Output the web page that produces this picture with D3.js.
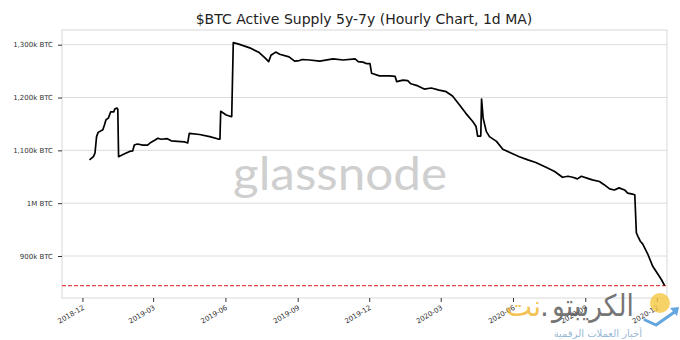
<!DOCTYPE html>
<html>
<head>
<meta charset="utf-8">
<script src="https://cdn.jsdelivr.net/npm/d3@7"></script>
<style>
  html, body { margin: 0; padding: 0; background: #ffffff; }
  svg { display: block; }
</style>
</head>
<body>
<svg id="chart" width="680" height="340"></svg>
<script>
// Active supply last moved 5–7 years ago, in thousands of BTC (1d moving average)
const dates = [
  "2018-12-10","2018-12-15","2018-12-17","2018-12-19","2018-12-21","2018-12-27","2018-12-29","2018-12-31",
  "2019-01-03","2019-01-06","2019-01-10","2019-01-11","2019-01-14","2019-01-15","2019-01-16","2019-01-23",
  "2019-01-30","2019-02-03","2019-02-05","2019-02-09","2019-02-16","2019-02-22","2019-02-26","2019-03-03",
  "2019-03-07","2019-03-11","2019-03-19","2019-03-24","2019-04-01","2019-04-10","2019-04-14","2019-04-16",
  "2019-04-29","2019-05-12","2019-05-24","2019-05-25","2019-05-26","2019-06-02","2019-06-08","2019-06-09",
  "2019-06-11","2019-06-18","2019-07-02","2019-07-14","2019-07-22","2019-07-26","2019-07-29","2019-08-04",
  "2019-08-09","2019-08-21","2019-08-28","2019-09-03","2019-09-07","2019-09-16","2019-09-29","2019-10-16",
  "2019-10-29","2019-11-13","2019-11-17","2019-11-23","2019-11-28","2019-12-02","2019-12-04","2019-12-14",
  "2019-12-27","2020-01-03","2020-01-05","2020-01-13","2020-01-19","2020-01-23","2020-02-01","2020-02-09",
  "2020-02-18","2020-02-28","2020-03-08","2020-03-16","2020-03-25","2020-04-02","2020-04-11","2020-04-15",
  "2020-04-17","2020-04-21","2020-04-22","2020-04-24","2020-04-28","2020-05-02","2020-05-11","2020-05-19",
  "2020-05-28","2020-06-09","2020-06-20","2020-06-30","2020-07-13","2020-07-24","2020-08-03","2020-08-10",
  "2020-08-16","2020-08-22","2020-08-27","2020-09-04","2020-09-10","2020-09-19","2020-09-25","2020-10-02",
  "2020-10-08","2020-10-14","2020-10-21","2020-10-25","2020-10-31","2020-11-03","2020-11-05","2020-11-07",
  "2020-11-10","2020-11-13","2020-11-20","2020-11-26","2020-11-30","2020-12-07","2020-12-11"
];
const supplyK = [
  1082,1088,1095,1126,1134,1139,1148,1158,
  1161,1173,1173,1178,1180,1178,1088,1093,
  1098,1099,1110,1112,1110,1110,1115,1119,
  1123,1121,1122,1118,1117,1116,1114,1132,
  1130,1126,1121,1121,1174,1167,1164,1164,
  1304,1301,1294,1285,1274,1268,1280,1286,
  1282,1277,1269,1270,1272,1271,1269,1273,
  1271,1273,1268,1267,1264,1264,1246,1241,
  1241,1240,1230,1233,1232,1226,1222,1216,
  1218,1214,1211,1203,1186,1170,1154,1145,
  1127,1127,1197,1161,1136,1126,1117,1102,
  1096,1088,1082,1077,1068,1060,1049,1051,
  1049,1046,1051,1047,1044,1041,1035,1027,
  1025,1029,1025,1019,1017,1016,944,937,
  928,923,902,880,871,855,844
];

// Reference level (latest value)
const referenceLevelK = 844;

const yTicks = [900, 1000, 1100, 1200, 1300];
const yTickLabels = ["900k BTC", "1M BTC", "1,100k BTC", "1,200k BTC", "1,300k BTC"];
const xTickLabels = ["2018-12", "2019-03", "2019-06", "2019-09", "2019-12", "2020-03", "2020-06", "2020-09", "2020-12"];

const titleText = "$BTC Active Supply 5y-7y (Hourly Chart, 1d MA)";

const svg = d3.select("#chart");
const margin = { top: 30, right: 13, bottom: 42, left: 62 };
const W = 680, H = 340;
const iw = W - margin.left - margin.right;
const ih = H - margin.top - margin.bottom;

const parse = d3.timeParse("%Y-%m-%d");
const parseMonth = d3.timeParse("%Y-%m");
const series = dates.map((d, i) => ({ date: parse(d), v: supplyK[i] }));

const x = d3.scaleTime()
  .domain([parse("2018-11-05"), parse("2020-12-14")])
  .range([0, iw]);
const y = d3.scaleLinear()
  .domain([820.5, 1327.8])
  .range([ih, 0]);

const g = svg.append("g").attr("transform", `translate(${margin.left},${margin.top})`);

// horizontal grid
g.append("g")
  .selectAll("line")
  .data(yTicks)
  .join("line")
  .attr("x1", 0).attr("x2", iw)
  .attr("y1", d => y(d)).attr("y2", d => y(d))
  .attr("stroke", "#dcdcdc").attr("stroke-width", 1);

// frame
g.append("rect")
  .attr("x", 0).attr("y", 0).attr("width", iw).attr("height", ih)
  .attr("fill", "none").attr("stroke", "#d8d8d8").attr("stroke-width", 1);

// watermark
g.append("text")
  .attr("x", 340 - margin.left)
  .attr("y", 190 - margin.top)
  .attr("text-anchor", "middle")
  .attr("font-family", "Lato, 'Open Sans', sans-serif")
  .attr("font-size", 46)
  .attr("textLength", 214)
  .attr("lengthAdjust", "spacingAndGlyphs")
  .attr("fill", "#cfcfcf")
  .text("glassnode");

// y axis
const yAxis = d3.axisLeft(y)
  .tickValues(yTicks)
  .tickFormat((d, i) => yTickLabels[i])
  .tickSize(4)
  .tickPadding(5);
const ya = g.append("g").call(yAxis);
ya.select(".domain").remove();
ya.selectAll(".tick line").attr("stroke", "#333").attr("stroke-width", 1);
ya.selectAll(".tick text")
  .attr("font-family", "'DejaVu Sans', sans-serif")
  .attr("font-size", 7)
  .attr("fill", "#333");

// x axis
const xTickDates = xTickLabels.map(parseMonth);
const xAxis = d3.axisBottom(x)
  .tickValues(xTickDates)
  .tickFormat((d, i) => xTickLabels[i])
  .tickSize(4)
  .tickPadding(4);
const xa = g.append("g").attr("transform", `translate(0,${ih})`).call(xAxis);
xa.select(".domain").remove();
xa.selectAll(".tick line").attr("stroke", "#333").attr("stroke-width", 1);
xa.selectAll(".tick text")
  .attr("font-family", "'DejaVu Sans', sans-serif")
  .attr("font-size", 7)
  .attr("fill", "#333")
  .attr("text-anchor", "end")
  .attr("dy", null)
  .attr("transform", "translate(2,11) rotate(-30)")
  .attr("y", 0)
  .attr("x", 0);

// reference level
g.append("line")
  .attr("x1", 0).attr("x2", iw)
  .attr("y1", y(referenceLevelK)).attr("y2", y(referenceLevelK))
  .attr("stroke", "#e8474a").attr("stroke-width", 1.1)
  .attr("stroke-dasharray", "4,2");

// series line
const line = d3.line()
  .x(d => x(d.date))
  .y(d => y(d.v));
g.append("path")
  .datum(series)
  .attr("d", line)
  .attr("fill", "none")
  .attr("stroke", "#000")
  .attr("stroke-width", 1.7)
  .attr("stroke-linejoin", "round");

// title
svg.append("text")
  .attr("x", 364)
  .attr("y", 24)
  .attr("text-anchor", "middle")
  .attr("font-family", "'DejaVu Sans', sans-serif")
  .attr("font-size", 14)
  .attr("fill", "#222")
  .text(titleText);

// publisher mark, bottom right
const mark = svg.append("g").attr("opacity", 0.8);
mark.append("circle")
  .attr("cx", 660).attr("cy", 303).attr("r", 10)
  .attr("fill", "#f5c842");
mark.append("path")
  .attr("d", "M645,320 L656,325 L676,311")
  .attr("fill", "none").attr("stroke", "#3d8fd6").attr("stroke-width", 3)
  .attr("stroke-linecap", "round").attr("stroke-linejoin", "round");
mark.append("path")
  .attr("d", "M670,308 L679,307 L677,316 Z")
  .attr("fill", "#3d8fd6");
mark.append("text")
  .attr("x", 634).attr("y", 316)
  .attr("text-anchor", "end")
  .attr("font-family", "'DejaVu Sans', sans-serif")
  .attr("font-size", 30)
  .attr("textLength", 82)
  .attr("lengthAdjust", "spacingAndGlyphs")
  .attr("fill", "#555")
  .text("الكريبتو");
mark.append("text")
  .attr("x", 549).attr("y", 316)
  .attr("text-anchor", "end")
  .attr("font-family", "'DejaVu Sans', sans-serif")
  .attr("font-size", 28)
  .attr("fill", "#555")
  .text(".");
mark.append("text")
  .attr("x", 541).attr("y", 316)
  .attr("text-anchor", "end")
  .attr("font-family", "'DejaVu Sans', sans-serif")
  .attr("font-size", 28)
  .attr("fill", "#f0b429")
  .text("نت");
mark.append("text")
  .attr("x", 642).attr("y", 337)
  .attr("text-anchor", "end")
  .attr("font-family", "'DejaVu Sans', sans-serif")
  .attr("font-size", 10)
  .attr("letter-spacing", 2.5)
  .attr("fill", "#7fa7c9")
  .text("أخبار العملات الرقمية");
</script>
</body>
</html>
